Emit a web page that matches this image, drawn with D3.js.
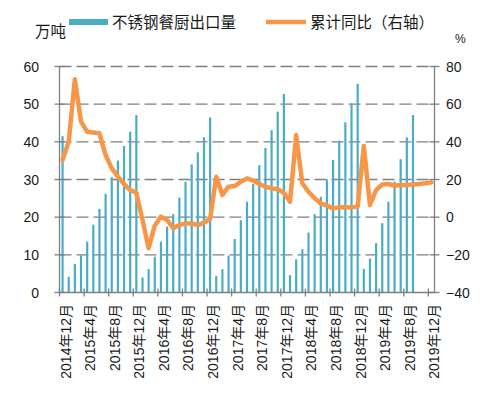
<!DOCTYPE html>
<html>
<head>
<meta charset="utf-8">
<script src="https://d3js.org/d3.v7.min.js"></script>
<style>
  body { margin: 0; background: #fff; }
  text { font-family: "Liberation Sans", Arial, "Noto Sans CJK SC", sans-serif; fill: #1a1a1a; }
</style>
</head>
<body>
<script>
  // monthly categories 2014-12 .. 2019-12
  let months = ["2014-12"];
  for (let y = 2015; y <= 2019; y++) {
    for (let m = 1; m <= 12; m++) months.push(y + "-" + m);
  }

  // 不锈钢餐厨出口量 (万吨, cumulative)
  let exportVol = [41.5,
    4.2, 7.6, 9.9, 13.5, 18.0, 22.2, 26.2, 30.6, 35.0, 38.9, 42.7, 47.1,
    4.0, 6.2, 9.5, 13.5, 17.5, 20.8, 25.2, 29.4, 34.0, 37.2, 41.2, 46.5,
    4.4, 6.2, 9.8, 14.2, 19.2, 24.1, 28.8, 33.8, 38.4, 43.1, 48.0, 52.7,
    4.6, 8.8, 11.5, 15.9, 20.8, 25.4, 30.0, 35.2, 40.3, 45.2, 50.2, 55.4,
    6.3, 9.0, 13.1, 18.4, 24.1, 29.4, 35.4, 41.2, 47.1, null, null, null];

  // 累计同比 (%)
  let yoy = [30.4,
    40.1, 73.2, 50.7, 45.4, 44.9, 44.5, 33.0, 25.9, 21.5, 17.6, 14.4, 13.0,
    -1.5, -16.5, -4.5, 0.3, -1.5, -5.9, -4.2, -3.3, -3.3, -4.2, -2.9, -1.0,
    21.5, 11.8, 16.2, 16.5, 18.8, 20.6, 19.4, 17.6, 16.2, 15.3, 14.8, 13.0,
    8.2, 43.6, 18.0, 13.5, 10.0, 7.3, 6.1, 4.7, 5.2, 5.2, 5.2, 5.6,
    37.8, 6.5, 14.4, 17.4, 17.6, 16.7, 17.1, 17.1, 17.4, 17.6, 18.0, 18.5];

  let tickLabels = ["2014年12月", "2015年4月", "2015年8月", "2015年12月", "2016年4月", "2016年8月",
    "2016年12月", "2017年4月", "2017年8月", "2017年12月", "2018年4月", "2018年8月",
    "2018年12月", "2019年4月", "2019年8月", "2019年12月"];
  let leftTicks = [0, 10, 20, 30, 40, 50, 60];
  let rightTicks = [-40, -20, 0, 20, 40, 60, 80];

  let width = 487, height = 398;
  let x0 = 59.5, x1 = 434.5, yTop = 66.5, yBot = 292.5;
  let grey = "#7f7f7f";

  let svg = d3.select("body").append("svg")
    .attr("width", width).attr("height", height);
  svg.append("rect").attr("width", width).attr("height", height).attr("fill", "#fff");

  let x = d3.scaleBand().domain(months).range([x0, x1]).padding(0);
  let yL = d3.scaleLinear().domain([0, 60]).range([yBot, yTop]);
  let yR = d3.scaleLinear().domain([-40, 80]).range([yBot, yTop]);

  // dashed grid
  svg.append("g").selectAll("line")
    .data(leftTicks.filter(d => d > 0))
    .enter().append("line")
    .attr("x1", x0).attr("x2", x1)
    .attr("y1", d => yL(d)).attr("y2", d => yL(d))
    .attr("stroke", grey).attr("stroke-width", 1.3)
    .attr("stroke-dasharray", "12,5");

  // bars
  let bw = 2.2;
  svg.append("g").selectAll("rect")
    .data(months.map((m, i) => ({ m: m, v: exportVol[i] })).filter(d => d.v != null))
    .enter().append("rect")
    .attr("x", d => x(d.m) + x.bandwidth() / 2 - bw / 2)
    .attr("width", bw)
    .attr("y", d => yL(d.v))
    .attr("height", d => yBot - yL(d.v))
    .attr("fill", "#4bacc6");

  // axes
  let axes = svg.append("g").attr("stroke", grey).attr("stroke-width", 1.3);
  axes.append("line").attr("x1", x0).attr("x2", x0).attr("y1", yTop).attr("y2", yBot);
  axes.append("line").attr("x1", x1).attr("x2", x1).attr("y1", yTop).attr("y2", yBot);
  axes.append("line").attr("x1", x0).attr("x2", x1).attr("y1", yBot).attr("y2", yBot);
  leftTicks.forEach(t => {
    axes.append("line").attr("x1", x0 - 5).attr("x2", x0 + 5).attr("y1", yL(t)).attr("y2", yL(t));
  });
  rightTicks.forEach(t => {
    axes.append("line").attr("x1", x1 - 5).attr("x2", x1 + 5).attr("y1", yR(t)).attr("y2", yR(t));
  });
  months.forEach((m, i) => {
    if (i % 4 == 0) {
      axes.append("line").attr("x1", x(m)).attr("x2", x(m)).attr("y1", yBot - 4).attr("y2", yBot + 4);
    }
  });

  // axis labels
  svg.append("g").selectAll("text")
    .data(leftTicks).enter().append("text")
    .attr("x", 39).attr("y", d => yL(d)).attr("dy", "0.36em")
    .attr("text-anchor", "end").attr("font-size", 14)
    .text(d => d);

  svg.append("g").selectAll("text")
    .data(rightTicks).enter().append("text")
    .attr("x", 446).attr("y", d => yR(d)).attr("dy", "0.36em")
    .attr("font-size", 14)
    .text(d => d < 0 ? "\u2212" + Math.abs(d) : d);

  svg.append("g").selectAll("text")
    .data(tickLabels).enter().append("text")
    .attr("transform", (d, i) => "translate(" + (x(months[i * 4]) + 6) + ",304) rotate(-90)")
    .attr("dy", "0.36em")
    .attr("text-anchor", "end").attr("font-size", 14)
    .text(d => d);

  // line
  svg.append("path")
    .datum(months.map((m, i) => ({ m: m, v: yoy[i] })))
    .attr("fill", "none")
    .attr("stroke", "#f79646")
    .attr("stroke-width", 4.5)
    .attr("stroke-linejoin", "round")
    .attr("stroke-linecap", "round")
    .attr("d", d3.line()
      .x(d => x(d.m) + x.bandwidth() / 2)
      .y(d => yR(d.v)));

  // unit labels and legend
  svg.append("text").attr("x", 35).attr("y", 37).attr("font-size", 15.5).text("万吨");
  svg.append("text").attr("x", 455).attr("y", 43).attr("font-size", 12).text("%");

  svg.append("rect").attr("x", 69).attr("y", 19).attr("width", 39).attr("height", 6).attr("fill", "#4bacc6");
  svg.append("text").attr("x", 112).attr("y", 28).attr("font-size", 15.5).text("不锈钢餐厨出口量");
  svg.append("line").attr("x1", 266).attr("x2", 306).attr("y1", 22).attr("y2", 22)
    .attr("stroke", "#f79646").attr("stroke-width", 4.5);
  svg.append("text").attr("x", 310).attr("y", 28).attr("font-size", 15.5).text("累计同比（右轴）");
</script>
</body>
</html>
